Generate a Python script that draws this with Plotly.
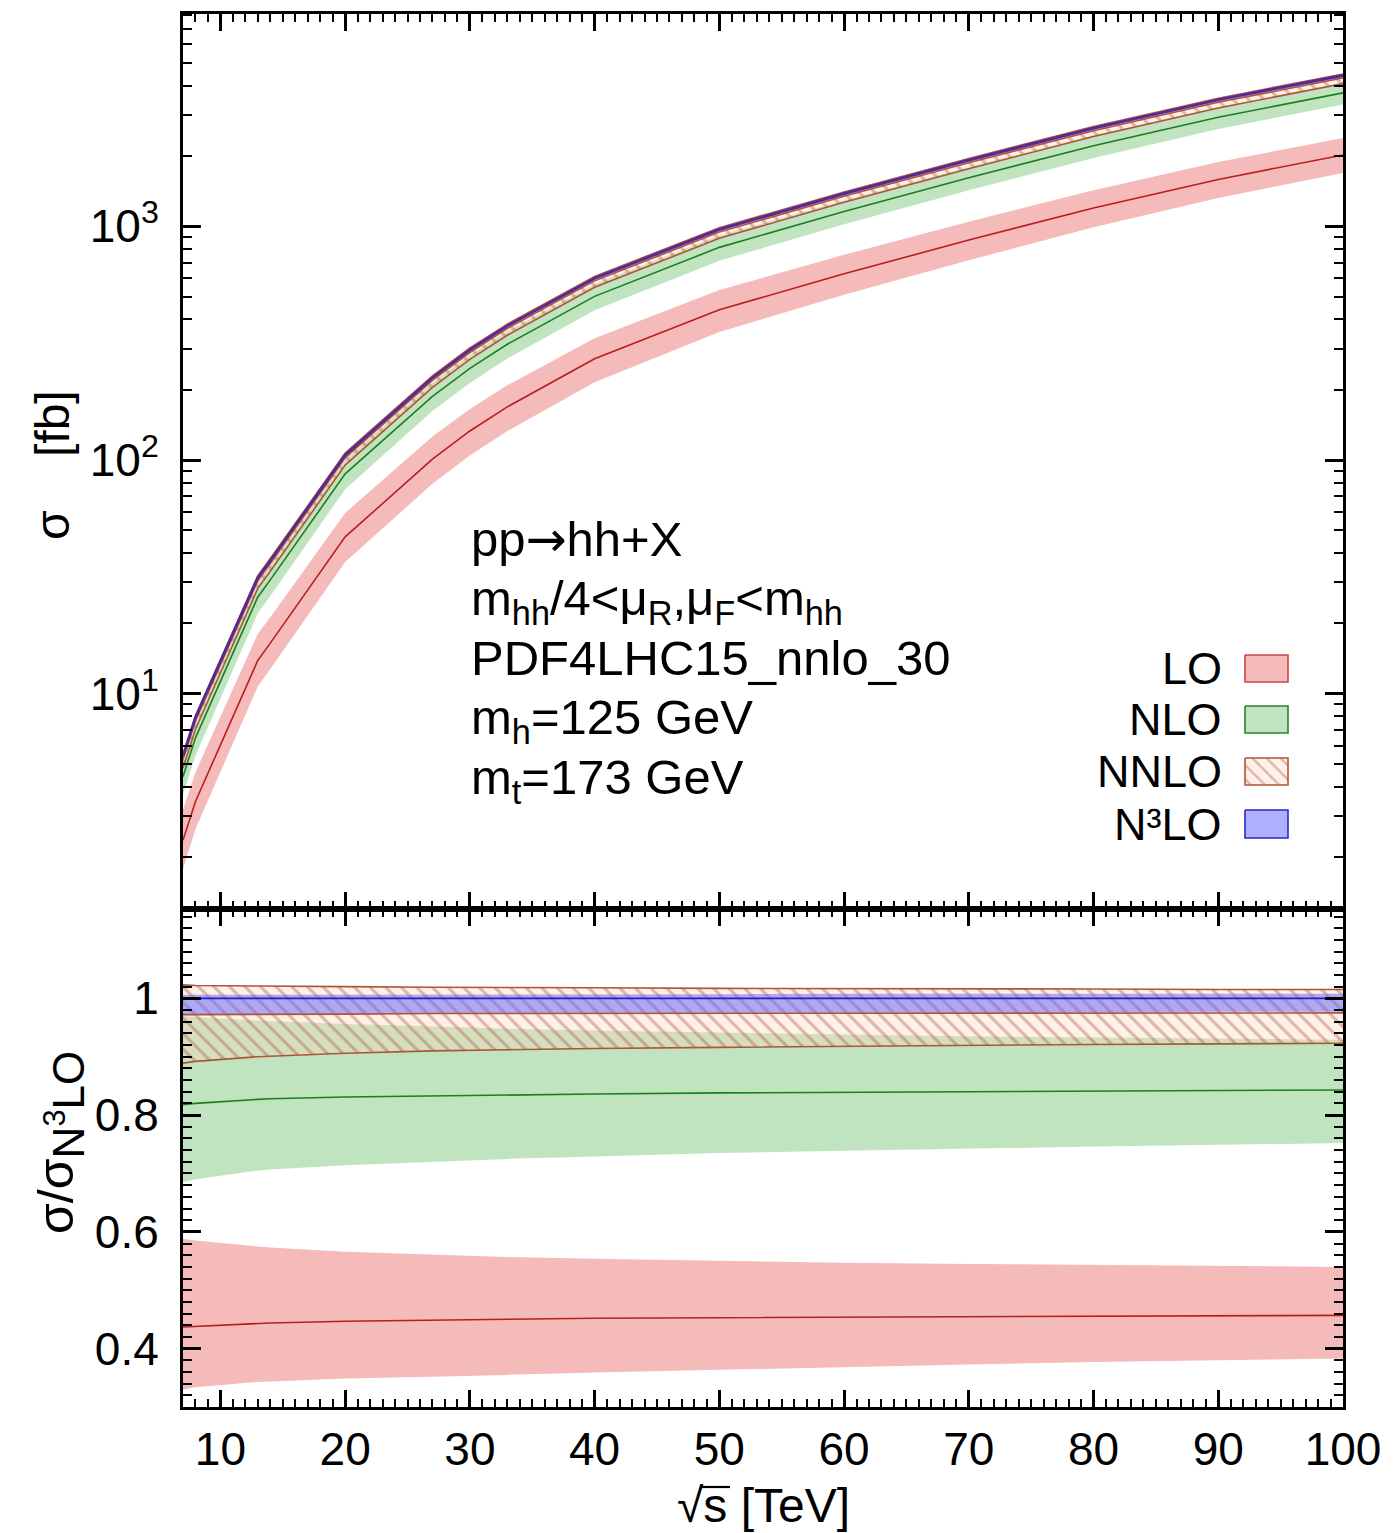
import math
import plotly.graph_objects as go

# ---------------- data ----------------
sqrt_s = [7, 8, 13, 14, 20, 27, 30, 33, 40, 50, 60, 70, 80, 90, 100]

# top panel: cross sections [fb]
lo_c  = [2.36, 3.46, 13.91, 16.47, 46.9, 101.0, 133.2, 168.8, 271.2, 439.4, 626.5, 873.6, 1199, 1587, 2020]
lo_hi = [3.18, 4.62, 18.06, 21.26, 59.4, 126.2, 165.5, 208.9, 332.4, 533.5, 754.9, 1046, 1428, 1883, 2387]
lo_lo = [1.78, 2.64, 10.77, 12.76, 36.6, 79.2, 104.5, 133.1, 215.4, 353.1, 509.2, 716.2, 991.5, 1322, 1693]

nlo_c  = [4.42, 6.48, 25.97, 30.72, 87.3, 187.4, 246.9, 313.1, 501.6, 812.9, 1158, 1613, 2212, 2930, 3726]
nlo_hi = [5.24, 7.65, 30.21, 35.65, 100.4, 214.2, 281.2, 355.5, 567.0, 912.8, 1294, 1795, 2454, 3240, 4106]
nlo_lo = [3.70, 5.45, 22.14, 26.23, 75.0, 162.0, 213.7, 271.9, 437.4, 713.0, 1020, 1427, 1962, 2607, 3324]

nnlo_c  = [5.25, 7.68, 30.55, 36.10, 102.2, 219.2, 288.3, 365.3, 584.4, 944.8, 1344, 1870, 2564, 3393, 4310]
nnlo_hi = [5.52, 8.07, 32.06, 37.88, 107.1, 229.3, 301.6, 381.8, 610.8, 986.5, 1403, 1951, 2672, 3532, 4486]
nnlo_lo = [4.80, 7.05, 28.26, 33.43, 95.1, 204.8, 269.7, 342.0, 548.4, 888.5, 1267, 1764, 2422, 3209, 4080]

n3lo_c  = [5.4, 7.9, 31.4, 37.1, 105, 225, 296, 375, 600, 970, 1380, 1920, 2630, 3480, 4420]
n3lo_hi = [5.43, 7.95, 31.59, 37.32, 105.6, 226.6, 298.1, 377.6, 604.2, 976.8, 1391, 1935, 2651, 3508, 4455]
n3lo_lo = [5.24, 7.67, 30.52, 36.06, 102.2, 218.9, 288.3, 365.3, 584.4, 945.8, 1346, 1874, 2567, 3400, 4318]

# bottom panel: ratio to N3LO
r_lo_c  = [0.437, 0.438, 0.443, 0.444, 0.447, 0.449, 0.450, 0.450, 0.452, 0.453, 0.454, 0.455, 0.456, 0.456, 0.457]
r_lo_hi = [0.588, 0.585, 0.575, 0.573, 0.566, 0.561, 0.559, 0.557, 0.554, 0.550, 0.547, 0.545, 0.543, 0.541, 0.540]
r_lo_lo = [0.330, 0.334, 0.343, 0.344, 0.349, 0.352, 0.353, 0.355, 0.359, 0.364, 0.369, 0.373, 0.377, 0.380, 0.383]

r_nlo_c  = [0.818, 0.820, 0.827, 0.828, 0.831, 0.833, 0.834, 0.835, 0.836, 0.838, 0.839, 0.840, 0.841, 0.842, 0.843]
r_nlo_hi = [0.970, 0.968, 0.962, 0.961, 0.956, 0.952, 0.950, 0.948, 0.945, 0.941, 0.938, 0.935, 0.933, 0.931, 0.929]
r_nlo_lo = [0.685, 0.690, 0.705, 0.707, 0.714, 0.720, 0.722, 0.725, 0.729, 0.735, 0.739, 0.743, 0.746, 0.749, 0.752]

r_nnlo_c  = [0.972, 0.972, 0.973, 0.973, 0.973, 0.974, 0.974, 0.974, 0.974, 0.974, 0.974, 0.974, 0.975, 0.975, 0.975]
r_nnlo_hi = [1.023, 1.022, 1.021, 1.021, 1.020, 1.019, 1.019, 1.018, 1.018, 1.017, 1.017, 1.016, 1.016, 1.015, 1.015]
r_nnlo_lo = [0.889, 0.892, 0.900, 0.901, 0.906, 0.910, 0.911, 0.912, 0.914, 0.916, 0.918, 0.919, 0.921, 0.922, 0.923]

r_n3lo_c  = [1.0] * 15
r_n3lo_hi = [1.006, 1.006, 1.006, 1.006, 1.006, 1.007, 1.007, 1.007, 1.007, 1.007, 1.008, 1.008, 1.008, 1.008, 1.008]
r_n3lo_lo = [0.971, 0.971, 0.972, 0.972, 0.973, 0.973, 0.974, 0.974, 0.974, 0.975, 0.975, 0.976, 0.976, 0.977, 0.977]

order_names = ["LO", "NLO", "NNLO", "N³LO"]
info_lines = ["pp<span style='font-family:DejaVu Sans'>→</span>hh+X",
              "m<sub>hh</sub>/4<μ<sub>R</sub>,μ<sub>F</sub><m<sub>hh</sub>",
              "PDF4LHC15_nnlo_30",
              "m<sub>h</sub>=125 GeV",
              "m<sub>t</sub>=173 GeV"]
x_ticks = [10, 20, 30, 40, 50, 60, 70, 80, 90, 100]
top_tickvals = [10, 100, 1000]
top_ticktext = ["10<sup>1</sup>", "10<sup>2</sup>", "10<sup>3</sup>"]
bot_tickvals = [0.4, 0.6, 0.8, 1.0]
bot_ticktext = ["0.4", "0.6", "0.8", "1"]

# ---------------- styles ----------------
LO_FILL = "rgba(235,110,110,0.48)"
LO_EDGE = "rgb(205,70,70)"
LO_LINE = "rgb(185,30,30)"
NLO_FILL = "rgba(105,190,105,0.42)"
NLO_EDGE = "rgb(40,130,40)"
NLO_LINE = "rgb(30,125,30)"
NNLO_FG = "rgba(165,85,50,0.75)"
NNLO_BG = "rgba(255,210,190,0.35)"
NNLO_LINE = "rgb(175,85,55)"
N3LO_FILL = "rgba(95,95,255,0.50)"
N3LO_LINE = "rgb(35,35,190)"
N3LO_LINE_TOP = "rgb(85,40,150)"
FONT = "Liberation Sans, Arial, Helvetica, sans-serif"

W, H = 1397, 1533
L, R, T, B = 183, 1343, 14, 1407
SPLIT = 909
dsplit = (B - SPLIT) / (B - T)

fig = go.Figure()


def band(lo, hi, xa, ya, fillcolor, pattern=None):
    fig.add_trace(go.Scatter(x=sqrt_s, y=lo, xaxis=xa, yaxis=ya, mode="lines",
                             line=dict(width=0, color="rgba(0,0,0,0)"),
                             showlegend=False, hoverinfo="skip"))
    kw = {}
    if pattern is not None:
        kw["fillpattern"] = pattern
    fig.add_trace(go.Scatter(x=sqrt_s, y=hi, xaxis=xa, yaxis=ya, mode="lines",
                             line=dict(width=0, color="rgba(0,0,0,0)"),
                             fill="tonexty", fillcolor=fillcolor,
                             showlegend=False, hoverinfo="skip", **kw))


def curve(y, xa, ya, color, width):
    fig.add_trace(go.Scatter(x=sqrt_s, y=y, xaxis=xa, yaxis=ya, mode="lines",
                             line=dict(width=width, color=color),
                             showlegend=False, hoverinfo="skip"))


hatch = dict(shape="\\", fgcolor=NNLO_FG, bgcolor=NNLO_BG, size=11, solidity=0.28)

panels = [
    ("x", "y", 2.8, N3LO_LINE_TOP, (lo_lo, lo_c, lo_hi), (nlo_lo, nlo_c, nlo_hi), (nnlo_lo, nnlo_c, nnlo_hi), (n3lo_lo, n3lo_c, n3lo_hi)),
    ("x2", "y2", 1.8, N3LO_LINE, (r_lo_lo, r_lo_c, r_lo_hi), (r_nlo_lo, r_nlo_c, r_nlo_hi), (r_nnlo_lo, r_nnlo_c, r_nnlo_hi), (r_n3lo_lo, r_n3lo_c, r_n3lo_hi)),
]

for xa, ya, w3, c3, lo, nlo, nnlo, n3lo in panels:
    band(lo[0], lo[2], xa, ya, LO_FILL)
    band(nlo[0], nlo[2], xa, ya, NLO_FILL)
    curve(lo[1], xa, ya, LO_LINE, 1.6)
    curve(nlo[1], xa, ya, NLO_LINE, 1.6)
    band(nnlo[0], nnlo[2], xa, ya, "rgba(0,0,0,0)", hatch)
    band(n3lo[0], n3lo[2], xa, ya, N3LO_FILL)
    curve(nnlo[0], xa, ya, NNLO_LINE, 1.6)
    curve(nnlo[2], xa, ya, NNLO_LINE, 1.6)
    curve(nnlo[1], xa, ya, NNLO_LINE, 1.6)
    curve(n3lo[1], xa, ya, c3, w3)

# ---------------- legend swatches (overlay axis in pixel units) ----------------
sw_x0, sw_x1 = 1245, 1288
sw_rows = [(655, 682), (706, 733), (758, 785), (810, 838)]
sw_style = [
    dict(fillcolor=LO_FILL, line=dict(color=LO_EDGE, width=1.6)),
    dict(fillcolor=NLO_FILL, line=dict(color=NLO_EDGE, width=1.6)),
    dict(fillcolor="rgba(0,0,0,0)", fillpattern=dict(shape="\\", fgcolor=NNLO_FG, bgcolor=NNLO_BG, size=10, solidity=0.25),
         line=dict(color=NNLO_LINE, width=1.6)),
    dict(fillcolor=N3LO_FILL, line=dict(color="rgb(40,40,200)", width=1.6)),
]
for (y0, y1), st in zip(sw_rows, sw_style):
    fig.add_trace(go.Scatter(x=[sw_x0, sw_x1, sw_x1, sw_x0, sw_x0], y=[y0, y0, y1, y1, y0],
                             xaxis="x3", yaxis="y3", mode="lines", fill="toself",
                             showlegend=False, hoverinfo="skip", **st))

# ---------------- layout ----------------
axis_common = dict(showline=True, linecolor="black", linewidth=3, mirror="allticks",
                   ticks="inside", tickcolor="black", tickwidth=2.5, showgrid=False,
                   zeroline=False, tickfont=dict(family=FONT, size=46, color="black"))
minor_x = dict(dtick=1, tick0=0, ticklen=8, tickwidth=2, tickcolor="black", ticks="inside", showgrid=False)

top_minor = [m * 10 ** e for e in range(0, 4) for m in range(2, 10)]

fig.update_layout(
    width=W, height=H,
    margin=dict(l=L, r=W - R, t=T, b=H - B, pad=0),
    paper_bgcolor="white", plot_bgcolor="rgba(0,0,0,0)",
    showlegend=False,
    font=dict(family=FONT, size=46, color="black"),
    xaxis=dict(domain=[0, 1], anchor="y", range=[7, 100], tickmode="array", tickvals=x_ticks,
               ticklen=17, showticklabels=False, minor=minor_x, **axis_common),
    xaxis2=dict(domain=[0, 1], anchor="y2", range=[7, 100], matches="x", tickmode="array",
                tickvals=x_ticks, ticktext=[str(v) for v in x_ticks], ticklen=17,
                ticklabelstandoff=0, minor=minor_x, **axis_common),
    yaxis=dict(domain=[dsplit, 1], anchor="x", type="log",
               range=[math.log10(1.2), math.log10(8100)], tickmode="array",
               tickvals=top_tickvals, ticktext=top_ticktext, ticklen=18, ticklabelstandoff=12,
               minor=dict(tickmode="array", tickvals=top_minor, ticklen=9, tickwidth=2,
                          tickcolor="black", ticks="inside", showgrid=False),
               **axis_common),
    yaxis2=dict(domain=[0, dsplit], anchor="x2", range=[0.3, 1.153], tickmode="array",
                tickvals=bot_tickvals, ticktext=bot_ticktext, ticklen=18, ticklabelstandoff=12,
                minor=dict(dtick=0.02, tick0=0, ticklen=9, tickwidth=2, tickcolor="black",
                           ticks="inside", showgrid=False),
                **axis_common),
    xaxis3=dict(overlaying="x", anchor="y3", range=[L, R], visible=False, fixedrange=True),
    yaxis3=dict(overlaying="y", anchor="x3", range=[SPLIT, T], visible=False, fixedrange=True),
)


def px_x(p):
    return (p - L) / (R - L)


def px_y(p):
    return (B - p) / (B - T)


annotations = []
# info text block, one annotation per line
info_tops = [509, 569, 629, 688, 748]
for txt, top in zip(info_lines, info_tops):
    annotations.append(dict(text=txt, xref="paper", yref="paper", x=px_x(469), y=px_y(top),
                            xanchor="left", yanchor="top", align="left", showarrow=False,
                            font=dict(family=FONT, size=49, color="black")))
# legend labels
for name, (y0, y1) in zip(order_names, sw_rows):
    annotations.append(dict(text=name, xref="paper", yref="paper", x=px_x(1224),
                            y=px_y((y0 + y1) / 2), xanchor="right", yanchor="middle",
                            showarrow=False,
                            font=dict(family=FONT, size=45, color="black")))
# axis titles
annotations.append(dict(text="√s [TeV]",
                        xref="paper", yref="paper", x=px_x(763), y=px_y(1505),
                        xanchor="center", yanchor="middle", showarrow=False,
                        font=dict(family=FONT, size=48, color="black")))
annotations.append(dict(text="σ    [fb]", xref="paper", yref="paper", x=px_x(52), y=px_y(465),
                        xanchor="center", yanchor="middle", textangle=-90, showarrow=False,
                        font=dict(family=FONT, size=48, color="black")))
annotations.append(dict(text="σ/σ<sub><span style='font-size:44px'>N<sup>3</sup>LO</span></sub>",
                        xref="paper", yref="paper",
                        x=px_x(60), y=px_y(1143), xanchor="center", yanchor="middle",
                        textangle=-90, showarrow=False,
                        font=dict(family=FONT, size=50, color="black")))
fig.update_layout(annotations=annotations)

# radical bar over "s" in the x-axis title (decoration)
fig.add_shape(type="line", xref="paper", yref="paper",
              x0=px_x(701), x1=px_x(730), y0=px_y(1487), y1=px_y(1487),
              line=dict(color="black", width=2.2))

fig.write_html("out.html", config={"displayModeBar": False},
               post_script="document.body.style.margin='0px';")
